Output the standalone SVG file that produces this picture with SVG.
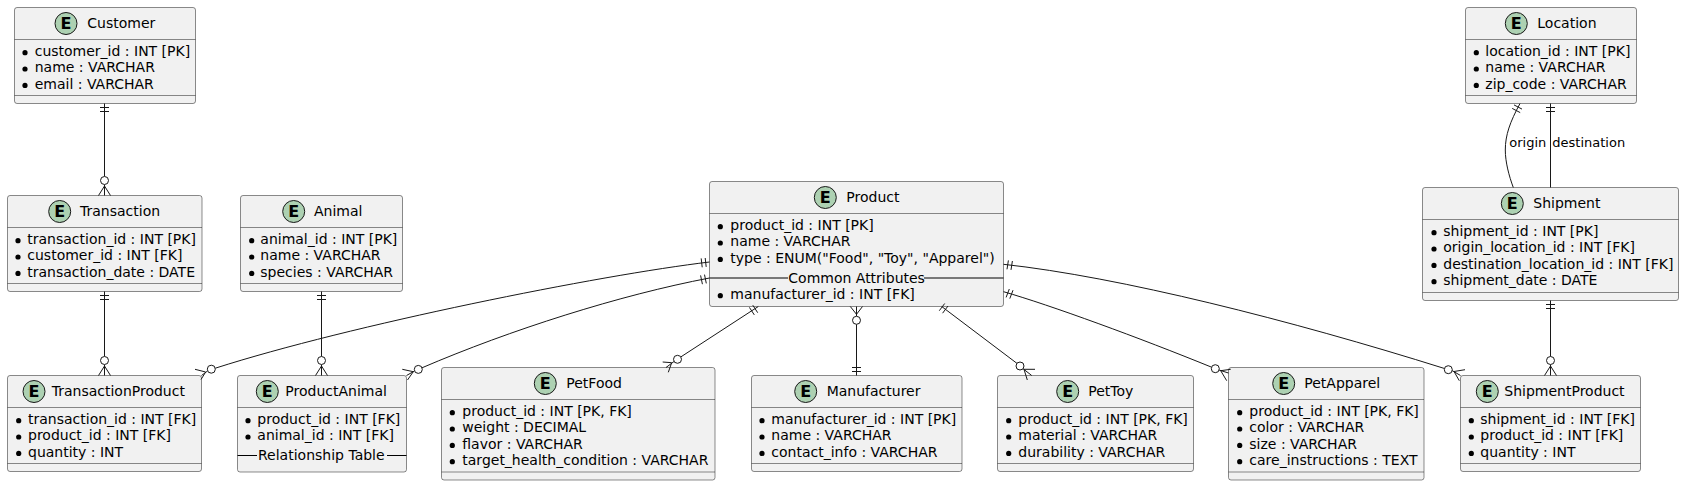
<svg xmlns="http://www.w3.org/2000/svg" width="1684" height="486" viewBox="0 0 1684 486">
<style>
text{font-family:"DejaVu Sans",sans-serif;font-size:14px;fill:#000}
.box{fill:#F1F1F1;stroke:#181818;stroke-width:.5}
.div{stroke:#181818;stroke-width:.5;fill:none}
.sep{stroke:#000;stroke-width:1;fill:none}
.spot{fill:#ADD1B2;stroke:#181818;stroke-width:1}
.e{font-weight:bold;font-size:16px;text-anchor:middle}
.lbl{font-size:13px}
#connectors path{fill:none;stroke:#181818;stroke-width:1}
#connectors circle{fill:#fff;stroke:#181818;stroke-width:1}
</style>
<defs><circle id="b" r="2.6" fill="#000"/></defs>

<g id="Customer">
<rect class="box" x="14.5" y="7.5" width="181" height="96" rx="2.5"/>
<path class="div" d="M14.5 39.5H195.5M14.5 95.5H195.5"/>
<circle class="spot" cx="66" cy="23.5" r="11"/><text class="e" x="66" y="29.3">E</text>
<text x="87.3" y="28">Customer</text>
<use href="#b" x="25" y="52.7"/><text x="34.7" y="56">customer_id : INT [PK]</text>
<use href="#b" x="25" y="69"/><text x="34.7" y="72.4">name : VARCHAR</text>
<use href="#b" x="25" y="85.4"/><text x="34.7" y="88.7">email : VARCHAR</text>
</g>

<g id="Transaction">
<rect class="box" x="7.5" y="195.5" width="194.5" height="96" rx="2.5"/>
<path class="div" d="M7.5 227.5H202M7.5 283.5H202"/>
<circle class="spot" cx="59.7" cy="211.5" r="11"/><text class="e" x="59.7" y="217.3">E</text>
<text x="80" y="216">Transaction</text>
<use href="#b" x="18" y="240.7"/><text x="27.3" y="244">transaction_id : INT [PK]</text>
<use href="#b" x="18" y="257"/><text x="27.3" y="260.4">customer_id : INT [FK]</text>
<use href="#b" x="18" y="273.4"/><text x="27.3" y="276.7">transaction_date : DATE</text>
</g>

<g id="Animal">
<rect class="box" x="240.5" y="195.5" width="162" height="96" rx="2.5"/>
<path class="div" d="M240.5 227.5H402.5M240.5 283.5H402.5"/>
<circle class="spot" cx="293.7" cy="211.5" r="11"/><text class="e" x="293.7" y="217.3">E</text>
<text x="314" y="216">Animal</text>
<use href="#b" x="251.7" y="240.7"/><text x="260.3" y="244">animal_id : INT [PK]</text>
<use href="#b" x="251.7" y="257"/><text x="260.3" y="260.4">name : VARCHAR</text>
<use href="#b" x="251.7" y="273.4"/><text x="260.3" y="276.7">species : VARCHAR</text>
</g>

<g id="TransactionProduct">
<rect class="box" x="7.5" y="375.5" width="194" height="96" rx="2.5"/>
<path class="div" d="M7.5 407.5H201.5M7.5 463.5H201.5"/>
<circle class="spot" cx="34" cy="391.5" r="11"/><text class="e" x="34" y="397.3">E</text>
<text x="51.7" y="396">TransactionProduct</text>
<use href="#b" x="18.7" y="420.7"/><text x="28" y="424">transaction_id : INT [FK]</text>
<use href="#b" x="18.7" y="437"/><text x="28" y="440.4">product_id : INT [FK]</text>
<use href="#b" x="18.7" y="453.4"/><text x="28" y="456.7">quantity : INT</text>
</g>

<g id="ProductAnimal">
<rect class="box" x="237.5" y="375.5" width="169" height="96.5" rx="2.5"/>
<path class="div" d="M237.5 407.5H406.5"/>
<path class="sep" d="M237.5 455.5H257M387 455.5H406.5"/>
<circle class="spot" cx="267.3" cy="391.5" r="11"/><text class="e" x="267.3" y="397.3">E</text>
<text x="285.3" y="396">ProductAnimal</text>
<use href="#b" x="248" y="420.7"/><text x="257.3" y="424">product_id : INT [FK]</text>
<use href="#b" x="248" y="437"/><text x="257.3" y="440.4">animal_id : INT [FK]</text>
<text x="258" y="460">Relationship Table</text>
</g>

<g id="Product">
<rect class="box" x="709.5" y="181.5" width="294" height="125" rx="2.5"/>
<path class="div" d="M709.5 213.5H1003.5"/>
<path class="sep" d="M709.5 278H788M924 278H1003.5"/>
<circle class="spot" cx="825.3" cy="197.5" r="11"/><text class="e" x="825.3" y="203.3">E</text>
<text x="846.3" y="202">Product</text>
<use href="#b" x="720.3" y="226.7"/><text x="730.3" y="230">product_id : INT [PK]</text>
<use href="#b" x="720.3" y="243"/><text x="730.3" y="246.4">name : VARCHAR</text>
<use href="#b" x="720.3" y="259.4"/><text x="730.3" y="262.7">type : ENUM("Food", "Toy", "Apparel")</text>
<text x="788.3" y="282.5">Common Attributes</text>
<use href="#b" x="720.3" y="295.7"/><text x="730.3" y="299.3">manufacturer_id : INT [FK]</text>
</g>

<g id="PetFood">
<rect class="box" x="441.5" y="367.5" width="273.5" height="112.5" rx="2.5"/>
<path class="div" d="M441.5 399.5H715M441.5 472H715"/>
<circle class="spot" cx="545.3" cy="383.5" r="11"/><text class="e" x="545.3" y="389.3">E</text>
<text x="566.3" y="388">PetFood</text>
<use href="#b" x="452.3" y="412.7"/><text x="462.3" y="416">product_id : INT [PK, FK]</text>
<use href="#b" x="452.3" y="429"/><text x="462.3" y="432.4">weight : DECIMAL</text>
<use href="#b" x="452.3" y="445.4"/><text x="462.3" y="448.7">flavor : VARCHAR</text>
<use href="#b" x="452.3" y="461.7"/><text x="462.3" y="465">target_health_condition : VARCHAR</text>
</g>

<g id="Manufacturer">
<rect class="box" x="751.5" y="375.5" width="210.5" height="96" rx="2.5"/>
<path class="div" d="M751.5 407.5H962M751.5 463.5H962"/>
<circle class="spot" cx="805.7" cy="391.5" r="11"/><text class="e" x="805.7" y="397.3">E</text>
<text x="826.7" y="396">Manufacturer</text>
<use href="#b" x="762" y="420.7"/><text x="771.3" y="424">manufacturer_id : INT [PK]</text>
<use href="#b" x="762" y="437"/><text x="771.3" y="440.4">name : VARCHAR</text>
<use href="#b" x="762" y="453.4"/><text x="771.3" y="456.7">contact_info : VARCHAR</text>
</g>

<g id="PetToy">
<rect class="box" x="997.5" y="375.5" width="196" height="96" rx="2.5"/>
<path class="div" d="M997.5 407.5H1193.5M997.5 463.5H1193.5"/>
<circle class="spot" cx="1067.7" cy="391.5" r="11"/><text class="e" x="1067.7" y="397.3">E</text>
<text x="1088.3" y="396">PetToy</text>
<use href="#b" x="1008.7" y="420.7"/><text x="1018.3" y="424">product_id : INT [PK, FK]</text>
<use href="#b" x="1008.7" y="437"/><text x="1018.3" y="440.4">material : VARCHAR</text>
<use href="#b" x="1008.7" y="453.4"/><text x="1018.3" y="456.7">durability : VARCHAR</text>
</g>

<g id="PetApparel">
<rect class="box" x="1228.5" y="367.5" width="195.5" height="112.5" rx="2.5"/>
<path class="div" d="M1228.5 399.5H1424M1228.5 472H1424"/>
<circle class="spot" cx="1283.7" cy="383.5" r="11"/><text class="e" x="1283.7" y="389.3">E</text>
<text x="1304.3" y="388">PetApparel</text>
<use href="#b" x="1239.7" y="412.7"/><text x="1249.3" y="416">product_id : INT [PK, FK]</text>
<use href="#b" x="1239.7" y="429"/><text x="1249.3" y="432.4">color : VARCHAR</text>
<use href="#b" x="1239.7" y="445.4"/><text x="1249.3" y="448.7">size : VARCHAR</text>
<use href="#b" x="1239.7" y="461.7"/><text x="1249.3" y="465">care_instructions : TEXT</text>
</g>

<g id="ShipmentProduct">
<rect class="box" x="1460.5" y="375.5" width="180" height="96" rx="2.5"/>
<path class="div" d="M1460.5 407.5H1640.5M1460.5 463.5H1640.5"/>
<circle class="spot" cx="1487.3" cy="391.5" r="11"/><text class="e" x="1487.3" y="397.3">E</text>
<text x="1504.3" y="396">ShipmentProduct</text>
<use href="#b" x="1471.3" y="420.7"/><text x="1480.3" y="424">shipment_id : INT [FK]</text>
<use href="#b" x="1471.3" y="437"/><text x="1480.3" y="440.4">product_id : INT [FK]</text>
<use href="#b" x="1471.3" y="453.4"/><text x="1480.3" y="456.7">quantity : INT</text>
</g>

<g id="Shipment">
<rect class="box" x="1422.5" y="187.5" width="256" height="113" rx="2.5"/>
<path class="div" d="M1422.5 219.5H1678.5M1422.5 292.5H1678.5"/>
<circle class="spot" cx="1512.3" cy="203.5" r="11"/><text class="e" x="1512.3" y="209.3">E</text>
<text x="1533.3" y="208">Shipment</text>
<use href="#b" x="1434" y="232.7"/><text x="1443.3" y="236">shipment_id : INT [PK]</text>
<use href="#b" x="1434" y="249"/><text x="1443.3" y="252.4">origin_location_id : INT [FK]</text>
<use href="#b" x="1434" y="265.4"/><text x="1443.3" y="268.7">destination_location_id : INT [FK]</text>
<use href="#b" x="1434" y="281.7"/><text x="1443.3" y="285">shipment_date : DATE</text>
</g>

<g id="Location">
<rect class="box" x="1465.5" y="7.5" width="171" height="96" rx="2.5"/>
<path class="div" d="M1465.5 39.5H1636.5M1465.5 95.5H1636.5"/>
<circle class="spot" cx="1516.3" cy="23.5" r="11"/><text class="e" x="1516.3" y="29.3">E</text>
<text x="1537.3" y="28">Location</text>
<use href="#b" x="1476.3" y="52.7"/><text x="1485.3" y="56">location_id : INT [PK]</text>
<use href="#b" x="1476.3" y="69"/><text x="1485.3" y="72.4">name : VARCHAR</text>
<use href="#b" x="1476.3" y="85.4"/><text x="1485.3" y="88.7">zip_code : VARCHAR</text>
</g>

<g id="connectors">
<!-- Customer - Transaction -->
<path d="M104.5 103.5V176.5M100 107.5H109M100 111.5H109M104.5 186L98.5 195.5M104.5 186L110.5 195.5M104.5 184.5V195.5"/>
<circle cx="104.5" cy="180.5" r="4"/>
<!-- Transaction - TransactionProduct -->
<path d="M104.5 291.5V356.5M100 295.5H109M100 299.5H109M104.5 366L98.5 375.5M104.5 366L110.5 375.5M104.5 364.5V375.5"/>
<circle cx="104.5" cy="360.5" r="4"/>
<!-- Animal - ProductAnimal -->
<path d="M321.5 291.5V356.5M317 295.5H326M317 299.5H326M321.5 366L315.5 375.5M321.5 366L327.5 375.5M321.5 364.5V375.5"/>
<circle cx="321.5" cy="360.5" r="4"/>
<!-- Shipment - ShipmentProduct -->
<path d="M1550.5 300.5V356.5M1546 304.5H1555M1546 308.5H1555M1550.5 366L1544.5 375.5M1550.5 366L1556.5 375.5M1550.5 364.5V375.5"/>
<circle cx="1550.5" cy="360.5" r="4"/>
<!-- Location - Shipment -->
<path d="M1550.5 103.5V187.5M1546 107.5H1555M1546 111.5H1555"/>
<path d="M1520 103.5C1510 122 1505.3 135 1505.3 150C1505.3 162 1509 176 1513.3 187.5M1514 104.9L1522 109.1M1512.2 108.4L1520.2 112.6"/>
<text class="lbl" x="1509.3" y="147.3">origin</text>
<text class="lbl" x="1552.3" y="147.3">destination</text>
<!-- Product - TransactionProduct -->
<path d="M709.5 262C600 275 350 325 215.3 368.2M705.2 258L706.2 266.9M701.2 258.4L702.2 267.3M205.7 372L195 369.3M205.7 372L201 379.5M207.5 371L201.5 375.5"/>
<circle cx="211.3" cy="369.2" r="4"/>
<!-- Product - ProductAnimal -->
<path d="M709.5 278C620 295 510 330 422 367.8M704.5 274.6L706.3 283.4M700.6 275.4L702.4 284.2M413.3 371.7L402.3 369.3M413.3 371.7L407.5 380M414.5 371L406.5 375.5"/>
<circle cx="418.3" cy="369.4" r="4"/>
<!-- Product - PetFood -->
<path d="M758.3 306.5L681 356.8M752.8 305.2L757.7 312.7M749.4 307.4L754.3 314.9M671.7 362.7L662.7 362M671.7 362.7L668.3 372.3M674 361.5L666 367.5"/>
<circle cx="677.5" cy="359.3" r="4"/>
<!-- Product - Manufacturer -->
<path d="M856.5 324.3V375.5M852 367.5H861M852 371.5H861M856.5 314.3L850.3 306.5M856.5 314.3L862.5 306.5M856.5 306.5V316.3"/>
<circle cx="856.5" cy="320.3" r="4"/>
<!-- Product - PetToy -->
<path d="M941.7 306.5L1017 363.4M944.7 303.5L939.3 310.7M948 306L942.6 313.2M1024 369.3L1035 369.3M1024 369.3L1027.3 380M1023 368.7L1031.7 375.5"/>
<circle cx="1020" cy="366" r="4"/>
<!-- Product - PetApparel -->
<path d="M1003.5 291.7C1050 305 1140 338 1211.6 367.2M1009.3 289L1006.1 297.4M1013 290.2L1009.8 298.6M1220.7 370.7L1230.7 369.3M1220.7 370.7L1226.7 380.7M1219 370L1228.5 373"/>
<circle cx="1215.3" cy="368.7" r="4"/>
<!-- Product - ShipmentProduct -->
<path d="M1003.5 264.3C1120 277 1290 320 1444.5 368.5M1008.4 260.4L1007 269.3M1012.4 261L1011 269.9M1454 371.5L1465 369.7M1454 371.5L1459.3 380.7M1452 370.5L1460.5 375.5"/>
<circle cx="1448.3" cy="369.7" r="4"/>
</g>
</svg>
